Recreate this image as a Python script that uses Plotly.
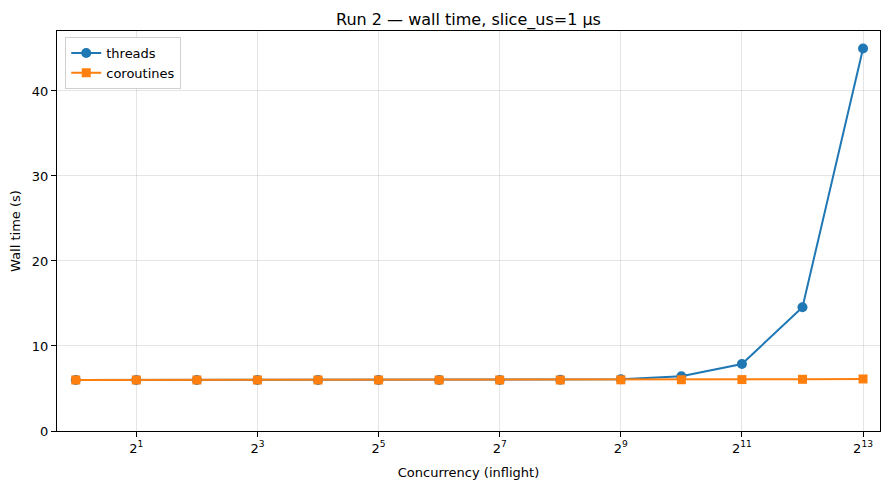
import numpy as np
import plotly.graph_objects as go

# concurrency levels 2^0 .. 2^13
inflight = [1, 2, 4, 8, 16, 32, 64, 128, 256, 512, 1024, 2048, 4096, 8192]

threads_s = [6.0, 6.0, 6.0, 6.0, 6.0, 6.0, 6.0, 6.0, 6.02, 6.08, 6.43, 7.88, 14.55, 45.0]
coroutines_s = [6.0, 6.0, 6.0, 6.0, 6.0, 6.0, 6.0, 6.0, 6.0, 6.02, 6.03, 6.05, 6.08, 6.12]

xtick_vals = [2, 8, 32, 128, 512, 2048, 8192]
xtick_text = ['2<sup>%d</sup>' % int(np.log2(v)) for v in xtick_vals]

FONT = 'DejaVu Sans'

fig = go.Figure()
fig.add_trace(go.Scatter(x=inflight, y=threads_s, name='threads', mode='lines+markers',
                         line=dict(color='#1f77b4', width=2),
                         marker=dict(symbol='circle', size=10, color='#1f77b4')))
fig.add_trace(go.Scatter(x=inflight, y=coroutines_s, name='coroutines', mode='lines+markers',
                         line=dict(color='#ff7f0e', width=2),
                         marker=dict(symbol='square', size=9, color='#ff7f0e')))

lo = np.log10(1) - 0.31 * np.log10(2)
hi = np.log10(8192) + 0.28 * np.log10(2)

axis_common = dict(showline=True, linecolor='black', linewidth=1, mirror=True,
                   ticks='outside', ticklen=5, tickcolor='black', automargin=False,
                   showgrid=True, gridcolor='rgba(0,0,0,0.1)', gridwidth=1,
                   zeroline=False, tickfont=dict(family=FONT, size=13, color='black'))

# the page body adds an 8px offset, so margins are shifted to compensate
fig.update_layout(
    width=889, height=489,
    margin=dict(l=49, r=17, t=23, b=66),
    paper_bgcolor='white', plot_bgcolor='white',
    font=dict(family=FONT, color='black'),
    title=dict(text='Run 2 — wall time, slice_us=1 µs', x=0.5, xref='paper', xanchor='center',
               y=1, yref='paper', yanchor='bottom', pad=dict(b=6),
               font=dict(family=FONT, size=16, color='black')),
    xaxis=dict(type='log', range=[lo, hi], tickvals=xtick_vals, ticktext=xtick_text,
               title=dict(text='Concurrency (inflight)', font=dict(family=FONT, size=13), standoff=13),
               **axis_common),
    yaxis=dict(range=[0, 47.05], tickvals=[0, 10, 20, 30, 40],
               title=dict(text='Wall time (s)', font=dict(family=FONT, size=13), standoff=10),
               **axis_common),
    legend=dict(x=0.01, y=0.985, xanchor='left', yanchor='top', bgcolor='white',
                bordercolor='#d0d0d0', borderwidth=1, tracegroupgap=0,
                font=dict(family=FONT, size=13)),
)

fig.write_html("out.html")
